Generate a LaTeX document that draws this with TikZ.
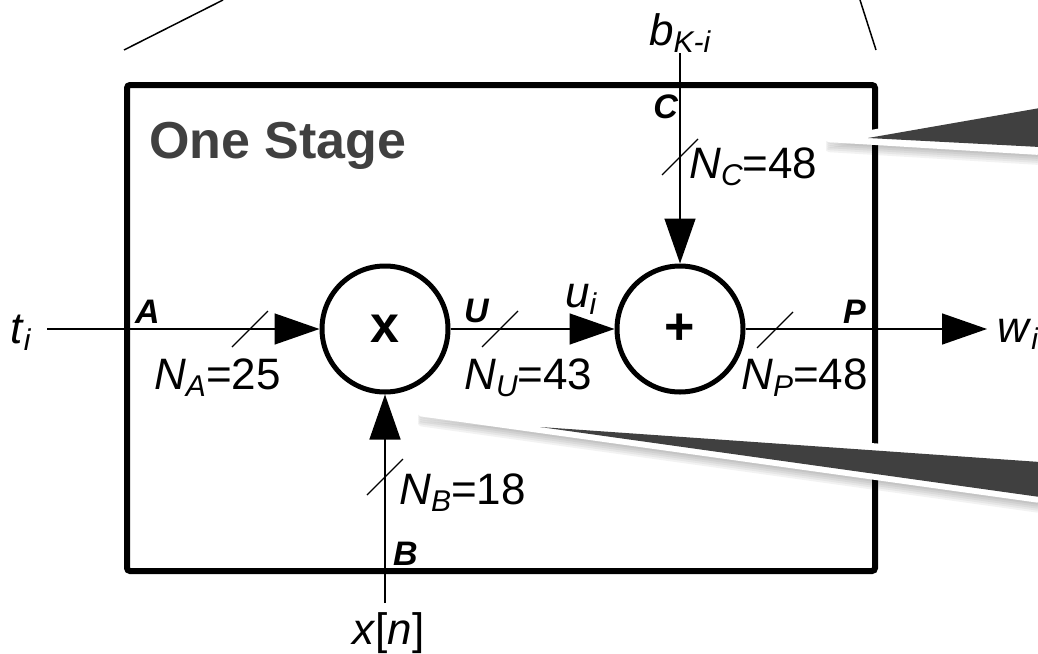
\documentclass[tikz,border=0pt]{standalone}
\usepackage{fontspec}
\setmainfont{Liberation Sans}
\usetikzlibrary{arrows.meta}
\definecolor{stagegray}{RGB}{64,64,64}
% subscript set in a smaller italic, dropped below the baseline
\newcommand\subsc[1]{\raisebox{-7pt}{\fontsize{30}{30}\selectfont\itshape #1}}

\begin{document}
\begin{tikzpicture}[x=1pt,y=-1pt,
  wire/.style={line width=1.5pt},
  flow/.style={wire,-{Triangle[length=45pt,width=31pt]}},
  op/.style={circle,draw,line width=5pt,minimum size=126pt,inner sep=0pt,
    font=\fontsize{52}{52}\selectfont\bfseries},
  port/.style={inner sep=0pt,font=\fontsize{34}{34}\selectfont\bfseries\itshape},
  txt/.style={inner sep=0pt,font=\fontsize{44}{44}\selectfont},
  tick/.style={line width=1.2pt},
  frame/.style={draw,line width=6pt,rounded corners=3pt,inner sep=0pt},
  callout/.style={fill=white,rounded corners=3pt},
  wedge/.style={fill=stagegray}
]
\useasboundingbox (0,0) rectangle (1038,653);
\clip (0,0) rectangle (1038,653);

% zoom guide lines
\draw[wire] (124,50) -- (223,0);
\draw[wire] (860,0) -- (876,50);

% stage frame
\node[frame,minimum width=748pt,minimum height=486pt] (stage) at (501,328) {};
\node[anchor=base west,inner sep=0pt,text=stagegray,
  font=\fontsize{52}{52}\selectfont\bfseries] (title) at (149,158) {One Stage};

% operators
\node[op] (mul) at (385,329) {x};
\node[op] (add) at (680,329) {+};

% free ends of the signals
\coordinate (tin) at (47,329);
\coordinate (bin) at (680,53);
\coordinate (xin) at (385,603);
\coordinate (wout) at (987,329);

\draw[flow] (tin) -- (mul);
\draw[flow] (mul) -- (add);
\draw[flow] (add) -- (wout);
\draw[flow] (bin) -- (add);
\draw[flow] (xin) -- (mul);

% bus width ticks
\foreach \cx/\cy in {250/329, 500/329, 775/330, 680/157, 385/477}
  \draw[tick] (\cx-18,\cy+18) -- (\cx+18,\cy-18);

% signal names
\node[txt,anchor=base west] (ti) at (10,343) {\textit{t}\subsc{i}};
\node[txt,anchor=base west] (ui) at (565,307) {\textit{u}\subsc{i}};
\node[txt,anchor=base west] (bk) at (649,45) {\textit{b}\subsc{K-i}};
\node[txt,anchor=base west] (wi) at (997,342) {\textit{w}\subsc{i}};
\node[txt,anchor=base west] (xn) at (352,644) {\textit{x}[\textit{n}]};

% bus widths
\node[txt,anchor=base west] (na) at (154,389) {\textit{N}\subsc{A}=25};
\node[txt,anchor=base west] (nu) at (464,389) {\textit{N}\subsc{U}=43};
\node[txt,anchor=base west] (np) at (741,389) {\textit{N}\subsc{P}=48};
\node[txt,anchor=base west] (nc) at (689,178) {\textit{N}\subsc{C}=48};
\node[txt,anchor=base west] (nb) at (399,504) {\textit{N}\subsc{B}=18};

% port names
\node[port,anchor=base west] (pa) at (135,323) {A};
\node[port,anchor=base west] (pu) at (464,322) {U};
\node[port,anchor=base east] (pp) at (866,323) {P};
\node[port,anchor=base east] (pc) at (678,118) {C};
\node[port,anchor=base west] (pb) at (393,565) {B};

% callout wedges with soft shadows
\foreach \s in {2,4,6,8,10} {
  \fill[black,opacity=0.05,rounded corners=3pt,shift={(0,\s)}]
    (826,138) -- (1040,99.6) -- (1040,155) -- (826,142) -- cycle;
  \fill[black,opacity=0.05,rounded corners=3pt,shift={(0,\s)}]
    (418,411) -- (1040,455) -- (1040,503) -- (418,416) -- cycle;
}
\fill[callout] (826,138) -- (1040,99.6) -- (1040,155) -- (826,142) -- cycle;
\fill[wedge] (868,138) -- (1040,108) -- (1040,147) -- cycle;
\fill[callout] (418,411) -- (1040,455) -- (1040,503) -- (418,416) -- cycle;
\fill[wedge] (540,427) -- (1040,462) -- (1040,497) -- cycle;
\end{tikzpicture}
\end{document}
